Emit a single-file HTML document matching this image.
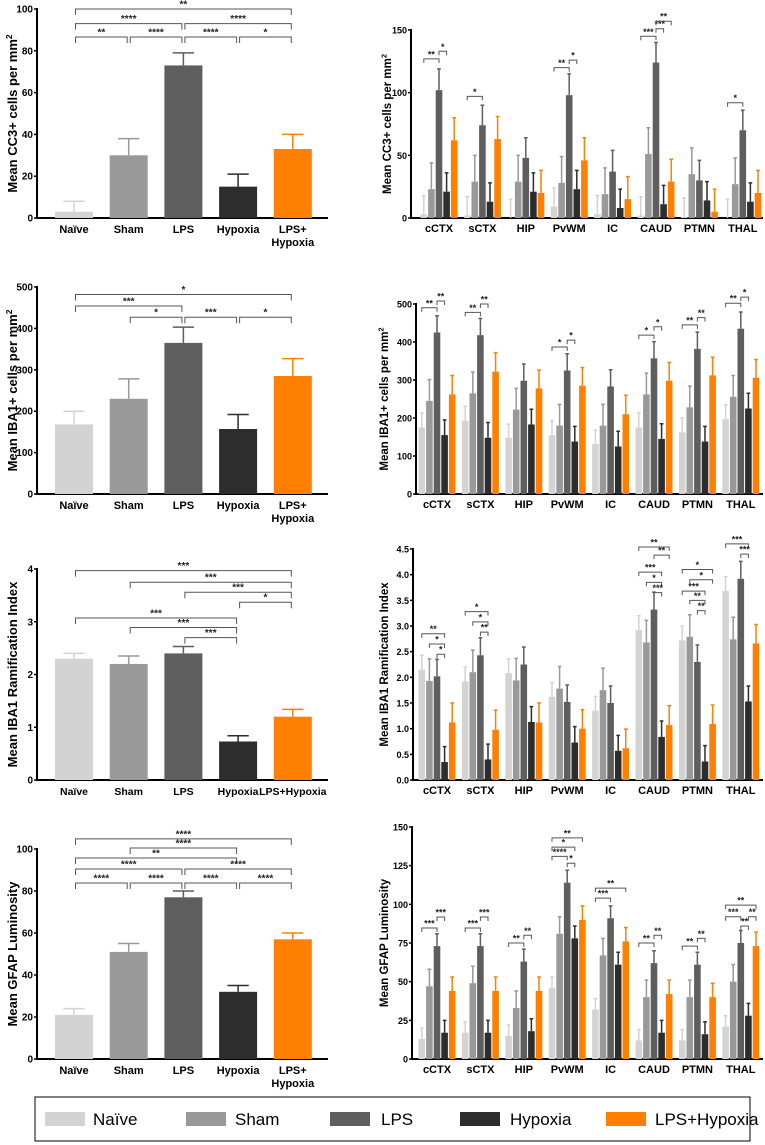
<!DOCTYPE html>
<html><head><meta charset="utf-8">
<style>
body{margin:0;background:#fff;}
svg{display:block;font-family:"Liberation Sans",Arial,sans-serif;font-weight:bold;}
</style></head>
<body>
<svg id="fig" width="765" height="1145" viewBox="0 0 765 1145" xmlns="http://www.w3.org/2000/svg">
<rect x="0" y="0" width="765" height="1145" fill="#fff"/>
<g>
<rect x="35" y="1097" width="715" height="44" fill="none" stroke="#000" stroke-width="1"/>
<rect x="45" y="1112" width="40" height="14" fill="#d3d3d3"/>
<text x="93" y="1125" font-size="17" font-weight="normal">Naïve</text>
<rect x="186" y="1112" width="40" height="14" fill="#999"/>
<text x="235" y="1125" font-size="17" font-weight="normal">Sham</text>
<rect x="330" y="1112" width="40" height="14" fill="#5e5e5e"/>
<text x="381" y="1125" font-size="17" font-weight="normal">LPS</text>
<rect x="460" y="1112" width="40" height="14" fill="#2d2d2d"/>
<text x="510" y="1125" font-size="17" font-weight="normal">Hypoxia</text>
<rect x="606" y="1112" width="40" height="14" fill="#ff8000"/>
<text x="655" y="1125" font-size="17" font-weight="normal">LPS+Hypoxia</text>
</g>
</svg>
<script>
const COLORS=["#d3d3d3","#999999","#5e5e5e","#2d2d2d","#ff8000"];
const groupsL=["Naïve","Sham","LPS","Hypoxia","LPS+\nHypoxia"];
const groupsL3=["Naïve","Sham","LPS","Hypoxia","LPS+Hypoxia"];
const regions=["cCTX","sCTX","HIP","PvWM","IC","CAUD","PTMN","THAL"];

// Left panels
const cc3Mean=[3,30,73,15,33];
const cc3Err=[5,8,6,6,7];
const cc3Ticks=[0,20,40,60,80,100];
const cc3Sig=[[0,4,"**",100],[0,2,"****",93],[2,4,"****",93],[0,1,"**",86.6],[1,2,"****",86.6],[2,3,"****",86.6],[3,4,"*",86.6]];

const ibaMean=[168,230,365,157,285];
const ibaErr=[32,48,38,35,42];
const ibaTicks=[0,100,200,300,400,500];
const ibaSig=[[0,4,"*",482],[0,2,"***",454],[1,2,"*",427],[2,3,"***",427],[3,4,"*",427]];

const ramMean=[2.3,2.2,2.4,0.73,1.2];
const ramErr=[0.1,0.15,0.13,0.11,0.14];
const ramTicks=[0,1,2,3,4];
const ramSig=[[0,4,"***",3.97],[1,4,"***",3.75],[2,4,"***",3.56],[3,4,"*",3.37],[0,3,"***",3.07],[1,3,"***",2.89],[2,3,"***",2.7]];

const gfapMean=[21,51,77,32,57];
const gfapErr=[3,4,3,3,3];
const gfapTicks=[0,20,40,60,80,100];
const gfapSig=[[0,4,"****",104.8],[1,3,"****",100.5],[0,3,"**",95.7],[0,2,"****",90.5],[2,4,"****",90.5],[0,1,"****",83.8],[1,2,"****",83.8],[2,3,"****",83.8],[3,4,"****",83.8]];

// Right panels (per region: Naive, Sham, LPS, Hypoxia, LPS+Hypoxia)
const rCc3Mean=[[3,23,102,21,62],[2,29,74,13,63],[0,29,48,21,20],[9,28,98,23,46],[3,19,37,8,15],[2,51,124,11,29],[1,35,30,14,5],[0,27,70,13,20]];
const rCc3Err=[[15,21,17,15,18],[15,21,16,15,18],[15,21,16,15,18],[15,21,17,15,18],[15,21,17,15,18],[15,21,16,15,18],[15,21,16,15,18],[15,21,16,15,18]];
const rCc3Ticks=[0,50,100,150];
const rCc3Sig=[[0,0,2,"**",127],[0,2,3,"*",133],[1,0,2,"*",97],[3,0,2,"**",120],[3,2,3,"*",126],[5,0,2,"***",145],[5,2,3,"***",151],[5,2,4,"**",157],[7,0,2,"*",92]];

const rIbaMean=[[175,245,425,155,262],[193,265,418,148,322],[148,222,298,183,278],[155,180,325,138,285],[132,180,283,125,210],[175,262,357,145,298],[162,228,382,138,312],[197,256,435,225,306]];
const rIbaErr=[[38,56,44,40,50],[38,56,44,40,50],[36,56,44,40,48],[38,56,44,40,48],[36,56,44,40,50],[38,56,44,40,48],[38,56,44,40,48],[38,56,44,40,48]];
const rIbaTicks=[0,100,200,300,400,500];
const rIbaSig=[[0,0,2,"**",490],[0,2,3,"**",508],[1,0,2,"**",478],[1,2,3,"**",500],[3,0,2,"*",387],[3,2,3,"*",405],[5,0,2,"*",418],[5,2,3,"*",440],[6,0,2,"**",445],[6,2,3,"**",464],[7,0,2,"**",502],[7,2,3,"*",518]];

const rRamMean=[[2.15,1.93,2.02,0.35,1.12],[1.92,2.1,2.43,0.4,0.98],[2.08,1.94,2.25,1.13,1.12],[1.62,1.78,1.52,0.73,1.0],[1.35,1.75,1.5,0.57,0.62],[2.92,2.68,3.32,0.84,1.07],[2.72,2.79,2.3,0.36,1.09],[3.68,2.74,3.92,1.53,2.66]];
const rRamErr=[[0.28,0.43,0.33,0.3,0.38],[0.28,0.43,0.34,0.3,0.38],[0.28,0.43,0.34,0.3,0.38],[0.28,0.43,0.33,0.31,0.37],[0.28,0.43,0.33,0.3,0.37],[0.28,0.43,0.34,0.31,0.38],[0.28,0.43,0.33,0.31,0.37],[0.28,0.43,0.34,0.3,0.37]];
const rRamTicks=[0,0.5,1.0,1.5,2.0,2.5,3.0,3.5,4.0,4.5];
const rRamSig=[[0,0,3,"**",2.85],[0,1,3,"*",2.65],[0,2,3,"*",2.45],[1,0,3,"*",3.28],[1,1,3,"*",3.08],[1,2,3,"**",2.88],[5,0,4,"**",4.54],[5,2,4,"**",4.38],[5,0,3,"***",4.05],[5,1,3,"*",3.85],[5,2,3,"***",3.65],[6,0,4,"*",4.1],[6,1,4,"*",3.9],[6,0,3,"***",3.68],[6,1,3,"**",3.5],[6,2,3,"**",3.3],[7,0,3,"***",4.6],[7,2,3,"***",4.4]];

const rGfapMean=[[13,47,73,17,44],[17,49,73,17,44],[15,33,63,18,44],[46,81,114,78,90],[32,67,91,61,76],[12,40,62,17,42],[12,40,61,16,40],[21,50,75,28,73]];
const rGfapErr=[[7,11,8,8,9],[7,11,8,8,9],[7,11,8,8,9],[7,11,8,8,9],[7,11,8,8,9],[7,11,8,8,9],[7,11,8,8,9],[7,11,8,8,9]];
const rGfapTicks=[0,25,50,75,100,125,150];
const rGfapSig=[[0,0,2,"***",84.7],[0,2,3,"***",91.8],[1,0,2,"***",84.7],[1,2,3,"***",91.8],[2,0,2,"**",75],[2,2,3,"**",80],[3,0,4,"**",143],[3,0,3,"*",137],[3,0,2,"****",131],[3,2,3,"*",126.6],[4,0,4,"**",110.5],[4,0,2,"***",104],[5,0,2,"**",75],[5,2,3,"**",80],[6,0,2,"**",73],[6,2,3,"**",78],[7,0,4,"**",99.5],[7,0,2,"***",92],[7,2,3,"**",86],[7,3,4,"**",92]];

const NS="http://www.w3.org/2000/svg";
const svg=document.getElementById("fig");
function mk(tag,attrs,parent){const e=document.createElementNS(NS,tag);for(const k in attrs)e.setAttribute(k,attrs[k]);(parent||svg).appendChild(e);return e;}

function fmt(t,dec){return dec?t.toFixed(1):String(t);}

function drawAxes(g,P,ticks){
  const ys=v=>P.y0-(v-ticks[0])/(P.vmax)*(P.y0-P.ytop);
  const ax=mk("line",{x1:P.ax,y1:P.ytop-1,x2:P.ax,y2:P.y0,stroke:"#000","stroke-width":2},g);
  
  
  const bx=mk("line",{x1:P.ax-1,y1:P.y0,x2:P.axEnd,y2:P.y0,stroke:"#000","stroke-width":2},g);
  
  
  ticks.forEach(t=>{
    const y=ys(t);
    mk("line",{x1:P.ax-3,y1:y,x2:P.ax,y2:y,stroke:"#000","stroke-width":1.5},g);
    const tl=mk("text",{x:P.ax-4,y:y+3.5,"font-size":P.tickFs,"text-anchor":"end"},g);
    tl.textContent=fmt(t,P.dec);
    
    
  });
  const tt=mk("text",{x:0,y:0,"font-size":P.titleFs,"text-anchor":"middle",transform:`translate(${P.titleX},${(P.ytop+P.y0)/2}) rotate(-90)`},g);
  
  
  if(P.sup){tt.textContent=P.title;const s=mk("tspan",{"font-size":P.titleFs*0.65,dy:-P.titleFs*0.4},tt);s.textContent="2";}
  else tt.textContent=P.title;
  return ys;
}

function bar(g,cx,w,v,e,col,ys,P,name){
  const r=mk("rect",{x:cx-w/2,y:ys(v),width:w,height:P.y0-ys(v),fill:col},g);
  
  
  const eb=mk("path",{d:`M${cx},${ys(v)}V${ys(v+e)}M${cx-w*0.28},${ys(v+e)}H${cx+w*0.28}`,stroke:col,"stroke-width":1.5,fill:"none"},g);
  
  
}

function bracket(g,xa,xb,y,label,fs,drop){
  const b=mk("path",{d:`M${xa},${y+drop}V${y}H${xb}V${y+drop}`,stroke:"#555","stroke-width":1,fill:"none"},g);
  
  
  const t=mk("text",{x:(xa+xb)/2,y:y-1.5,"font-size":fs,"text-anchor":"middle",fill:"#222"},g);
  t.textContent=label;
  
  
}

function leftPanel(name,P,mean,err,ticks,sig,labels){
  const g=mk("g",{});
  
  
  const ys=drawAxes(g,P,ticks);
  const cx=i=>74+54.7*i;
  mean.forEach((v,i)=>bar(g,cx(i),38,v,err[i],COLORS[i],ys,P,'bar-'+i));
  labels.forEach((l,i)=>{
    const lines=l.split("\n");
    lines.forEach((ln,k)=>{
      const t=mk("text",{x:cx(i),y:P.y0+15+k*13,"font-size":P.labFs||11,"text-anchor":"middle"},g);
      t.textContent=ln;
      
      
    });
  });
  sig.forEach(s=>bracket(g,cx(s[0])+1.5,cx(s[1])-1.5,ys(s[3]),s[2],10,6));
}

function rightPanel(name,P,mean,err,ticks,sig){
  const g=mk("g",{});
  
  
  const ys=drawAxes(g,P,ticks);
  const gc=r=>P.gx+43.4*r;
  const bx=(r,i)=>gc(r)+(i-2)*7.6;
  mean.forEach((row,r)=>row.forEach((v,i)=>bar(g,bx(r,i),6.6,v,err[r][i],COLORS[i],ys,P,'bar-'+regions[r]+'-'+i)));
  regions.forEach((l,r)=>{
    const t=mk("text",{x:gc(r),y:P.y0+14,"font-size":11,"text-anchor":"middle"},g);
    t.textContent=l;
    
    
  });
  sig.forEach(s=>bracket(g,bx(s[0],s[1]),bx(s[0],s[2]),ys(s[4]),s[3],9,4));
}

leftPanel("cc3-bar-chart",{ax:37,axEnd:328,y0:218,ytop:9,vmax:100,tickFs:10,titleFs:13,titleX:17,title:"Mean CC3+ cells per mm",sup:true},cc3Mean,cc3Err,cc3Ticks,cc3Sig,groupsL);
leftPanel("iba1-bar-chart",{ax:37,axEnd:328,y0:494,ytop:287,vmax:500,tickFs:10,titleFs:13,titleX:17,title:"Mean IBA1+ cells per mm",sup:true},ibaMean,ibaErr,ibaTicks,ibaSig,groupsL);
leftPanel("ramification-bar-chart",{ax:37,axEnd:328,y0:780,ytop:569,vmax:4,tickFs:10,titleFs:13,titleX:17,labFs:10.5,title:"Mean IBA1 Ramification Index"},ramMean,ramErr,ramTicks,ramSig,groupsL3);
leftPanel("gfap-bar-chart",{ax:37,axEnd:328,y0:1059,ytop:849,vmax:100,tickFs:10,titleFs:13,titleX:17,title:"Mean GFAP Luminosity"},gfapMean,gfapErr,gfapTicks,gfapSig,groupsL);

rightPanel("regional-cc3-chart",{ax:411,axEnd:763,y0:218,ytop:30,vmax:150,tickFs:9,titleFs:11.5,titleX:391,gx:439,title:"Mean CC3+ cells per mm",sup:true},rCc3Mean,rCc3Err,rCc3Ticks,rCc3Sig);
rightPanel("regional-iba1-chart",{ax:416,axEnd:763,y0:494,ytop:304,vmax:500,tickFs:9,titleFs:11.5,titleX:388,gx:437,title:"Mean IBA1+ cells per mm",sup:true},rIbaMean,rIbaErr,rIbaTicks,rIbaSig);
rightPanel("regional-ramification-chart",{ax:413,axEnd:763,y0:780,ytop:549,vmax:4.5,tickFs:9,titleFs:11.5,titleX:388,gx:437,dec:true,title:"Mean IBA1 Ramification Index"},rRamMean,rRamErr,rRamTicks,rRamSig);
rightPanel("regional-gfap-chart",{ax:412,axEnd:763,y0:1059,ytop:827,vmax:150,tickFs:9,titleFs:11.5,titleX:388,gx:437,title:"Mean GFAP Luminosity"},rGfapMean,rGfapErr,rGfapTicks,rGfapSig);
</script>
</body></html>
